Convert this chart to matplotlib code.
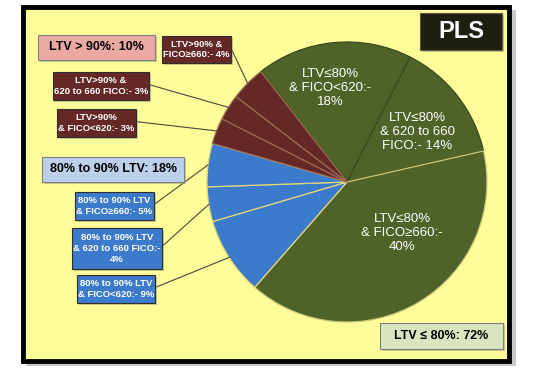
import numpy as np
import matplotlib
matplotlib.use("Agg")
import matplotlib.pyplot as plt
from matplotlib.patches import Rectangle

W, H = 536, 378

# slice shares, clockwise from the top-left
slice_names = [
    "LTV≤80% & FICO<620", "LTV≤80% & 620-660", "LTV≤80% & FICO≥660",
    "80-90 & FICO<620", "80-90 & 620-660", "80-90 & FICO≥660",
    "LTV>90 & FICO<620", "LTV>90 & 620-660", "LTV>90 & FICO≥660",
]
slice_values = [18, 14, 40, 9, 4, 5, 3, 3, 4]
slice_colors = ["#4F6228", "#4F6228", "#4F6228",
                "#3C7BCB", "#3C7BCB", "#3C7BCB",
                "#642826", "#642826", "#642826"]
edge_colors = ["#3A4A1C", "#3A4A1C", "#C9C77A",
               "#E2D67A", "#E2D67A", "#E2D67A",
               "#9C6A50", "#9C6A50", "#9C6A50"]
explode = [0, 0, 0, 0.035, 0.035, 0.035, 0.035, 0.035, 0.035]

inner_labels = ["LTV≤80%\n& FICO<620:-\n18%",
                "LTV≤80%\n& 620 to 660\nFICO:- 14%",
                "LTV≤80%\n& FICO≥660:-\n40%"]
inner_pos = [(330, 88), (417, 132), (402, 233)]

# callout boxes: text, slice index, box (x0, y0, x1, y1) in pixels from top-left
callouts = [
    ("LTV>90% &\nFICO≥660:- 4%", 8, (162, 36, 231, 63)),
    ("LTV>90% &\n620 to 660 FICO:- 3%", 7, (53, 72, 149, 100)),
    ("LTV>90%\n& FICO<620:- 3%", 6, (57, 109, 136, 137)),
    ("80% to 90% LTV\n& FICO≥660:- 5%", 5, (75, 192, 154, 220)),
    ("80% to 90% LTV\n& 620 to 660 FICO:-\n4%", 4, (72, 228, 162, 269)),
    ("80% to 90% LTV\n& FICO<620:- 9%", 3, (77, 275, 155, 303)),
]
group_labels = [
    ("LTV > 90%: 10%", (38, 35, 155, 60), "#EBA9A4"),
    ("80% to 90% LTV: 18%", (42, 157, 184, 182), "#BBD0EA"),
    ("LTV ≤ 80%: 72%", (380, 323, 503, 349), "#D8E5BE"),
]

sans = ["Liberation Sans", "DejaVu Sans"]


def box(ax, x0, y0, x1, y1, fc, ec, shadow=True, lw=0.8):
    if shadow:
        ax.add_patch(Rectangle((x0 + 2, H - y1 - 2), x1 - x0, y1 - y0,
                               fc="#9A9A7A", ec="none", alpha=0.5, zorder=4))
    ax.add_patch(Rectangle((x0, H - y1), x1 - x0, y1 - y0, fc=fc, ec=ec,
                           lw=lw, zorder=5))


fig = plt.figure(figsize=(W / 100, H / 100), dpi=100)
ax = fig.add_axes([0, 0, 1, 1])

# frame with shadow
ax.add_patch(Rectangle((26, H - 366), 490, 356, fc="#C8C8C8", ec="none", zorder=0))
ax.add_patch(Rectangle((23, H - 361), 486, 354, fc="#FFFC9A", ec="black", lw=3.5, zorder=1))

wedges, _ = ax.pie(slice_values, colors=slice_colors, startangle=128, counterclock=False,
                   center=(347, H - 182), radius=140, explode=explode,
                   wedgeprops=dict(linewidth=0.9), normalize=True)
for w, ec in zip(wedges, edge_colors):
    w.set_edgecolor(ec)
    w.set_zorder(2)

for txt, (x, y) in zip(inner_labels, inner_pos):
    ax.text(x, H - y, txt, ha="center", va="center", color="white", fontsize=9.5,
            family=sans, linespacing=1.2, zorder=3)

for txt, idx, (x0, y0, x1, y1) in callouts:
    w = wedges[idx]
    mid = np.deg2rad((w.theta1 + w.theta2) / 2)
    cx, cy = w.center
    px, py = cx + w.r * np.cos(mid), cy + w.r * np.sin(mid)
    sy = H - (y0 + 0.45 * (y1 - y0))
    ax.plot([x1, px], [sy, py], color="#4A4A3A", lw=0.8, zorder=3)
    fc = slice_colors[idx]
    box(ax, x0, y0, x1, y1, fc, "#2E2E2E")
    ax.text((x0 + x1) / 2, H - (y0 + y1) / 2, txt, ha="center", va="center",
            color="white", fontsize=6.8, fontweight="bold", family=sans,
            linespacing=1.25, zorder=6)

for txt, (x0, y0, x1, y1), fc in group_labels:
    box(ax, x0, y0, x1, y1, fc, "#7F7F7F")
    ax.text((x0 + x1) / 2, H - (y0 + y1) / 2, txt, ha="center", va="center",
            color="black", fontsize=9, fontweight="bold", family=sans, zorder=6)

# title box
box(ax, 420, 13, 502, 50, "#1F1F12", "#5A5A40")
ax.text(461, H - 31.5, "PLS", ha="center", va="center", color="white", fontsize=17,
        fontweight="bold", family=sans, zorder=6)

ax.set_xlim(0, W)
ax.set_ylim(0, H)
ax.set_aspect("auto")
ax.axis("off")

fig.savefig("out.png", dpi=100)
